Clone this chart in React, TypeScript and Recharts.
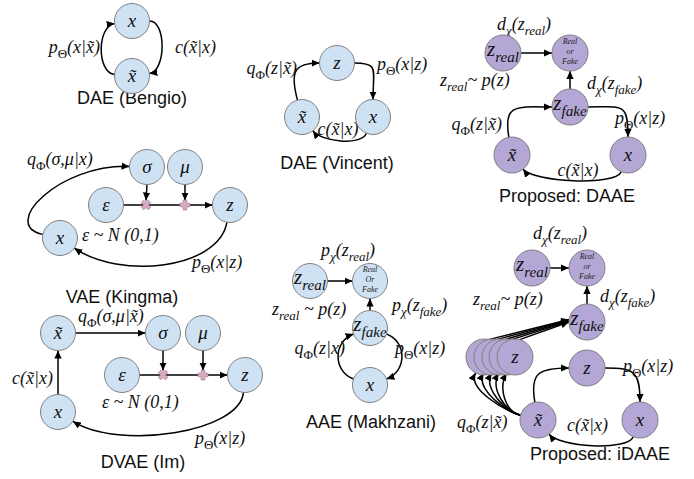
import React from 'react';
import { ScatterChart, Scatter, XAxis, YAxis, Customized } from 'recharts';

interface DiagramNode {
  id: string;
  x: number;
  y: number;
  label: string;
}

interface DiagramEdge {
  from: string;
  to: string;
  a1: number;
  a2: number;
  k1: number;
  k2: number;
}

interface MathLabel {
  x: number;
  y: number;
  text: string;
  anchor: 'start' | 'middle' | 'end';
}

interface OpMark {
  id: string;
  x: number;
  y: number;
  op: 'mul' | 'add';
}

const W = 694;
const H = 479;

// ---- nodes (blue panels) ----
const bengioNodes: DiagramNode[] = [
  { id: 'b_x', x: 132, y: 21, label: 'x' },
  { id: 'b_xt', x: 132, y: 76, label: 'x\u0303' },
];

const vincentNodes: DiagramNode[] = [
  { id: 'v_z', x: 337, y: 63, label: 'z' },
  { id: 'v_xt', x: 302, y: 117, label: 'x\u0303' },
  { id: 'v_x', x: 373, y: 117, label: 'x' },
];

const kingmaNodes: DiagramNode[] = [
  { id: 'k_s', x: 147, y: 167, label: 'σ' },
  { id: 'k_m', x: 185, y: 167, label: 'μ' },
  { id: 'k_e', x: 106, y: 205, label: 'ε' },
  { id: 'k_z', x: 230, y: 205, label: 'z' },
  { id: 'k_x', x: 60, y: 238, label: 'x' },
];

const imNodes: DiagramNode[] = [
  { id: 'i_xt', x: 58, y: 333, label: 'x\u0303' },
  { id: 'i_s', x: 163, y: 333, label: 'σ' },
  { id: 'i_m', x: 203, y: 333, label: 'μ' },
  { id: 'i_e', x: 122, y: 375, label: 'ε' },
  { id: 'i_z', x: 245, y: 375, label: 'z' },
  { id: 'i_x', x: 58, y: 412, label: 'x' },
];

const makhzaniNodes: DiagramNode[] = [
  { id: 'a_zr', x: 310, y: 281, label: 'z_{real}' },
  { id: 'a_rf', x: 370, y: 281, label: 'Real\nOr\nFake' },
  { id: 'a_zf', x: 370, y: 328, label: 'z_{fake}' },
  { id: 'a_x', x: 370, y: 385, label: 'x' },
];

// ---- nodes (purple panels) ----
const daaeNodes: DiagramNode[] = [
  { id: 'd_zr', x: 503, y: 53, label: 'z_{real}' },
  { id: 'd_rf', x: 570, y: 53, label: 'Real\nor\nFake' },
  { id: 'd_zf', x: 570, y: 107, label: 'z_{fake}' },
  { id: 'd_xt', x: 512, y: 155, label: 'x\u0303' },
  { id: 'd_x', x: 628, y: 155, label: 'x' },
];

const idaaeNodes: DiagramNode[] = [
  { id: 'g_zr', x: 532, y: 268, label: 'z_{real}' },
  { id: 'g_rf', x: 587, y: 268, label: 'Real\nor\nFake' },
  { id: 'g_zf', x: 587, y: 322, label: 'z_{fake}' },
  { id: 'g_s0', x: 484, y: 357, label: '' },
  { id: 'g_s1', x: 492, y: 357, label: '' },
  { id: 'g_s2', x: 500, y: 357, label: '' },
  { id: 'g_s3', x: 507, y: 357, label: '' },
  { id: 'g_s4', x: 515, y: 357, label: 'z' },
  { id: 'g_z', x: 587, y: 368, label: 'z' },
  { id: 'g_xt', x: 538, y: 420, label: 'x\u0303' },
  { id: 'g_x', x: 640, y: 420, label: 'x' },
];

// ---- reparameterisation operators ----
const opMarks: OpMark[] = [
  { id: 'k_mul', x: 146, y: 205, op: 'mul' },
  { id: 'k_add', x: 185, y: 205, op: 'add' },
  { id: 'i_mul', x: 163, y: 375, op: 'mul' },
  { id: 'i_add', x: 203, y: 375, op: 'add' },
];

// ---- edges: port angles (deg) and bend lengths ----
const edges: DiagramEdge[] = [
  { from: 'b_xt', to: 'b_x', a1: 185, a2: 172, k1: 18, k2: 18 },
  { from: 'b_x', to: 'b_xt', a1: 0, a2: -8, k1: 17, k2: 17 },

  { from: 'v_xt', to: 'v_z', a1: 255, a2: 180, k1: 30, k2: 25 },
  { from: 'v_z', to: 'v_x', a1: 0, a2: 270, k1: 25, k2: 30 },
  { from: 'v_x', to: 'v_xt', a1: 112, a2: 52, k1: 14, k2: 14 },

  { from: 'd_zr', to: 'd_rf', a1: 0, a2: 180, k1: 0, k2: 0 },
  { from: 'd_zf', to: 'd_rf', a1: 270, a2: 90, k1: 0, k2: 0 },
  { from: 'd_xt', to: 'd_zf', a1: 260, a2: 180, k1: 35, k2: 35 },
  { from: 'd_zf', to: 'd_x', a1: 0, a2: 270, k1: 35, k2: 35 },
  { from: 'd_x', to: 'd_xt', a1: 112, a2: 52, k1: 16, k2: 16 },

  { from: 'k_s', to: 'k_mul', a1: 90, a2: 270, k1: 0, k2: 0 },
  { from: 'k_m', to: 'k_add', a1: 90, a2: 270, k1: 0, k2: 0 },
  { from: 'k_e', to: 'k_z', a1: 0, a2: 180, k1: 0, k2: 0 },
  { from: 'k_x', to: 'k_s', a1: 192, a2: 182, k1: 45, k2: 70 },
  { from: 'k_z', to: 'k_x', a1: 100, a2: 35, k1: 48, k2: 55 },

  { from: 'i_xt', to: 'i_s', a1: 0, a2: 180, k1: 0, k2: 0 },
  { from: 'i_x', to: 'i_xt', a1: 270, a2: 90, k1: 0, k2: 0 },
  { from: 'i_s', to: 'i_mul', a1: 90, a2: 270, k1: 0, k2: 0 },
  { from: 'i_m', to: 'i_add', a1: 90, a2: 270, k1: 0, k2: 0 },
  { from: 'i_e', to: 'i_z', a1: 0, a2: 180, k1: 0, k2: 0 },
  { from: 'i_z', to: 'i_x', a1: 95, a2: 32, k1: 40, k2: 55 },

  { from: 'a_zr', to: 'a_rf', a1: 0, a2: 180, k1: 0, k2: 0 },
  { from: 'a_zf', to: 'a_rf', a1: 270, a2: 90, k1: 0, k2: 0 },
  { from: 'a_x', to: 'a_zf', a1: 200, a2: 160, k1: 22, k2: 22 },
  { from: 'a_zf', to: 'a_x', a1: 20, a2: 340, k1: 22, k2: 22 },

  { from: 'g_zr', to: 'g_rf', a1: 0, a2: 180, k1: 0, k2: 0 },
  { from: 'g_zf', to: 'g_rf', a1: 270, a2: 90, k1: 0, k2: 0 },
  { from: 'g_s0', to: 'g_zf', a1: 285, a2: 188, k1: 0, k2: 0 },
  { from: 'g_s1', to: 'g_zf', a1: 285, a2: 186, k1: 0, k2: 0 },
  { from: 'g_s2', to: 'g_zf', a1: 285, a2: 184, k1: 0, k2: 0 },
  { from: 'g_s3', to: 'g_zf', a1: 285, a2: 182, k1: 0, k2: 0 },
  { from: 'g_s4', to: 'g_zf', a1: 285, a2: 180, k1: 0, k2: 0 },
  { from: 'g_xt', to: 'g_s0', a1: 195, a2: 118, k1: 16, k2: 18 },
  { from: 'g_xt', to: 'g_s1', a1: 195, a2: 118, k1: 16, k2: 18 },
  { from: 'g_xt', to: 'g_s2', a1: 195, a2: 118, k1: 16, k2: 18 },
  { from: 'g_xt', to: 'g_s3', a1: 195, a2: 118, k1: 16, k2: 18 },
  { from: 'g_xt', to: 'g_s4', a1: 195, a2: 118, k1: 16, k2: 18 },
  { from: 'g_xt', to: 'g_z', a1: 260, a2: 180, k1: 30, k2: 30 },
  { from: 'g_z', to: 'g_x', a1: 0, a2: 270, k1: 30, k2: 30 },
  { from: 'g_x', to: 'g_xt', a1: 112, a2: 52, k1: 16, k2: 16 },
];

// ---- formula labels ----
const mathLabels: MathLabel[] = [
  { x: 100, y: 53, text: 'p_{Θ}(x|x\u0303)', anchor: 'end' },
  { x: 175, y: 53, text: 'c(x\u0303|x)', anchor: 'start' },

  { x: 297, y: 74, text: 'q_{Φ}(z|x\u0303)', anchor: 'end' },
  { x: 377, y: 70, text: 'p_{Θ}(x|z)', anchor: 'start' },
  { x: 338, y: 135, text: 'c(x\u0303|x)', anchor: 'middle' },

  { x: 524, y: 30, text: 'd_{χ}(z_{real})', anchor: 'middle' },
  { x: 440, y: 86, text: 'z_{real}~ p(z)', anchor: 'start' },
  { x: 587, y: 89, text: 'd_{χ}(z_{fake})', anchor: 'start' },
  { x: 502, y: 130, text: 'q_{Φ}(z|x\u0303)', anchor: 'end' },
  { x: 615, y: 124, text: 'p_{Θ}(x|z)', anchor: 'start' },
  { x: 578, y: 176, text: 'c(x\u0303|x)', anchor: 'middle' },

  { x: 27, y: 165, text: 'q_{Φ}(σ,μ|x)', anchor: 'start' },
  { x: 82, y: 241, text: 'ε ~ N (0,1)', anchor: 'start' },
  { x: 192, y: 268, text: 'p_{Θ}(x|z)', anchor: 'start' },

  { x: 78, y: 322, text: 'q_{Φ}(σ,μ|x\u0303)', anchor: 'start' },
  { x: 53, y: 384, text: 'c(x\u0303|x)', anchor: 'end' },
  { x: 102, y: 408, text: 'ε ~ N (0,1)', anchor: 'start' },
  { x: 195, y: 444, text: 'p_{Θ}(x|z)', anchor: 'start' },

  { x: 348, y: 256, text: 'p_{χ}(z_{real})', anchor: 'middle' },
  { x: 272, y: 315, text: 'z_{real} ~ p(z)', anchor: 'start' },
  { x: 392, y: 311, text: 'p_{χ}(z_{fake})', anchor: 'start' },
  { x: 345, y: 354, text: 'q_{Φ}(z|x)', anchor: 'end' },
  { x: 395, y: 354, text: 'p_{Θ}(x|z)', anchor: 'start' },

  { x: 560, y: 239, text: 'd_{χ}(z_{real})', anchor: 'middle' },
  { x: 473, y: 305, text: 'z_{real}~ p(z)', anchor: 'start' },
  { x: 600, y: 302, text: 'd_{χ}(z_{fake})', anchor: 'start' },
  { x: 623, y: 372, text: 'p_{Θ}(x|z)', anchor: 'start' },
  { x: 457, y: 428, text: 'q_{Φ}(z|x\u0303)', anchor: 'start' },
  { x: 567, y: 431, text: 'c(x\u0303|x)', anchor: 'start' },
];

// ---- panel captions ----
const captions = [
  { x: 132, y: 104, text: 'DAE (Bengio)' },
  { x: 337, y: 169, text: 'DAE (Vincent)' },
  { x: 567, y: 202, text: 'Proposed: DAAE' },
  { x: 122, y: 303, text: 'VAE (Kingma)' },
  { x: 371, y: 428, text: 'AAE (Makhzani)' },
  { x: 143, y: 468, text: 'DVAE (Im)' },
  { x: 600, y: 460, text: 'Proposed: iDAAE' },
];

const BLUE_R = 17.5;
const PURPLE_R = 18;
const SERIF = "'Liberation Serif', 'Times New Roman', serif";
const SANS = "'Liberation Sans', Arial, sans-serif";

const blueNodes = [...bengioNodes, ...vincentNodes, ...kingmaNodes, ...imNodes, ...makhzaniNodes];
const purpleNodes = [...daaeNodes, ...idaaeNodes];

const lookup: Record<string, { x: number; y: number; r: number }> = {};
blueNodes.forEach((n) => (lookup[n.id] = { x: n.x, y: n.y, r: BLUE_R }));
purpleNodes.forEach((n) => (lookup[n.id] = { x: n.x, y: n.y, r: PURPLE_R }));
opMarks.forEach((o) => (lookup[o.id] = { x: o.x, y: o.y, r: 4.5 }));

// split "p_{Θ}(x)" into normal / subscript pieces
function parseMath(s: string) {
  const out: { t: string; sub: boolean }[] = [];
  let buf = '';
  let i = 0;
  while (i < s.length) {
    if (s[i] === '_' && s[i + 1] === '{') {
      if (buf) out.push({ t: buf, sub: false });
      buf = '';
      const end = s.indexOf('}', i);
      out.push({ t: s.slice(i + 2, end), sub: true });
      i = end + 1;
    } else {
      buf += s[i];
      i++;
    }
  }
  if (buf) out.push({ t: buf, sub: false });
  return out;
}

const MathText = ({ x, y, text, anchor, size = 18 }: { x: number; y: number; text: string; anchor: string; size?: number }) => {
  const segs = parseMath(text);
  let down = false;
  return (
    <text x={x} y={y} textAnchor={anchor} fontFamily={SERIF} fontStyle="italic" fontSize={size} fill="#111">
      {segs.map((s, i) => {
        let dy = 0;
        if (s.sub && !down) {
          dy = size * 0.3;
          down = true;
        } else if (!s.sub && down) {
          dy = -size * 0.3;
          down = false;
        }
        const upright = /[ΘΦ]/.test(s.t);
        return (
          <tspan key={i} dy={dy || undefined} fontSize={s.sub ? size * 0.72 : undefined} fontStyle={upright ? 'normal' : undefined}>
            {s.t}
          </tspan>
        );
      })}
    </text>
  );
};

const makeNodeShape = (fill: string, r: number) => (props: any) => {
  const { cx, cy, payload } = props;
  const label: string = payload.label;
  let inner: React.ReactNode = null;
  if (label.includes('\n')) {
    const lines = label.split('\n');
    inner = (
      <text x={cx} y={cy - 9} textAnchor="middle" fontFamily={SERIF} fontStyle="italic" fontSize={8} fill="#222">
        {lines.map((l, i) => (
          <tspan key={i} x={cx} dy={i === 0 ? 0 : 10}>
            {l}
          </tspan>
        ))}
      </text>
    );
  } else if (label.includes('_{')) {
    inner = <MathText x={cx} y={cy + 3} text={label} anchor="middle" size={21} />;
  } else if (label) {
    inner = <MathText x={cx} y={cy + 6} text={label} anchor="middle" size={19} />;
  }
  return (
    <g>
      <circle cx={cx} cy={cy} r={r} fill={fill} stroke="#808080" strokeWidth={1} />
      {inner}
    </g>
  );
};

const rad = (a: number) => (a * Math.PI) / 180;

const Overlay = () => {
  return (
    <g>
      <defs>
        <marker id="arrowHead" viewBox="0 0 10 10" refX="10" refY="5" markerWidth="8" markerHeight="8" markerUnits="userSpaceOnUse" orient="auto">
          <path d="M0,0.5 L10,5 L0,9.5 z" fill="#000" />
        </marker>
      </defs>
      {edges.map((e, i) => {
        const n1 = lookup[e.from];
        const n2 = lookup[e.to];
        const p1 = [n1.x + n1.r * Math.cos(rad(e.a1)), n1.y + n1.r * Math.sin(rad(e.a1))];
        const p2 = [n2.x + n2.r * Math.cos(rad(e.a2)), n2.y + n2.r * Math.sin(rad(e.a2))];
        const c1 = [p1[0] + e.k1 * Math.cos(rad(e.a1)), p1[1] + e.k1 * Math.sin(rad(e.a1))];
        const c2 = [p2[0] + e.k2 * Math.cos(rad(e.a2)), p2[1] + e.k2 * Math.sin(rad(e.a2))];
        const d =
          e.k1 === 0 && e.k2 === 0
            ? `M${p1[0]},${p1[1]} L${p2[0]},${p2[1]}`
            : `M${p1[0]},${p1[1]} C${c1[0]},${c1[1]} ${c2[0]},${c2[1]} ${p2[0]},${p2[1]}`;
        return <path key={i} d={d} fill="none" stroke="#000" strokeWidth={1.5} markerEnd="url(#arrowHead)" />;
      })}
      {opMarks.map((o) => (
        <g key={o.id} transform={`translate(${o.x},${o.y}) rotate(${o.op === 'mul' ? 45 : 0})`}>
          <path
            d="M-1.8,-5 H1.8 V-1.8 H5 V1.8 H1.8 V5 H-1.8 V1.8 H-5 V-1.8 H-1.8 Z"
            fill="#d9a9c1"
            stroke="#9a6f86"
            strokeWidth={0.6}
          />
        </g>
      ))}
      {mathLabels.map((l, i) => (
        <MathText key={i} x={l.x} y={l.y} text={l.text} anchor={l.anchor} />
      ))}
      {captions.map((c, i) => (
        <text key={i} x={c.x} y={c.y} textAnchor="middle" fontFamily={SANS} fontSize={18} fill="#111">
          {c.text}
        </text>
      ))}
    </g>
  );
};

const App: React.FC = () => {
  return (
    <div style={{ position: 'absolute', left: 0, top: 0, width: W, height: H, background: '#fff' }}>
      <ScatterChart width={W} height={H} margin={{ top: 0, right: 0, bottom: 0, left: 0 }}>
        <XAxis type="number" dataKey="x" domain={[0, W]} allowDataOverflow hide />
        <YAxis type="number" dataKey="y" domain={[0, H]} allowDataOverflow reversed hide />
        <Scatter data={blueNodes} shape={makeNodeShape('#cfe2f3', BLUE_R)} isAnimationActive={false} />
        <Scatter data={purpleNodes} shape={makeNodeShape('#b4a7d6', PURPLE_R)} isAnimationActive={false} />
        <Customized component={Overlay} />
      </ScatterChart>
    </div>
  );
};

export default App;
